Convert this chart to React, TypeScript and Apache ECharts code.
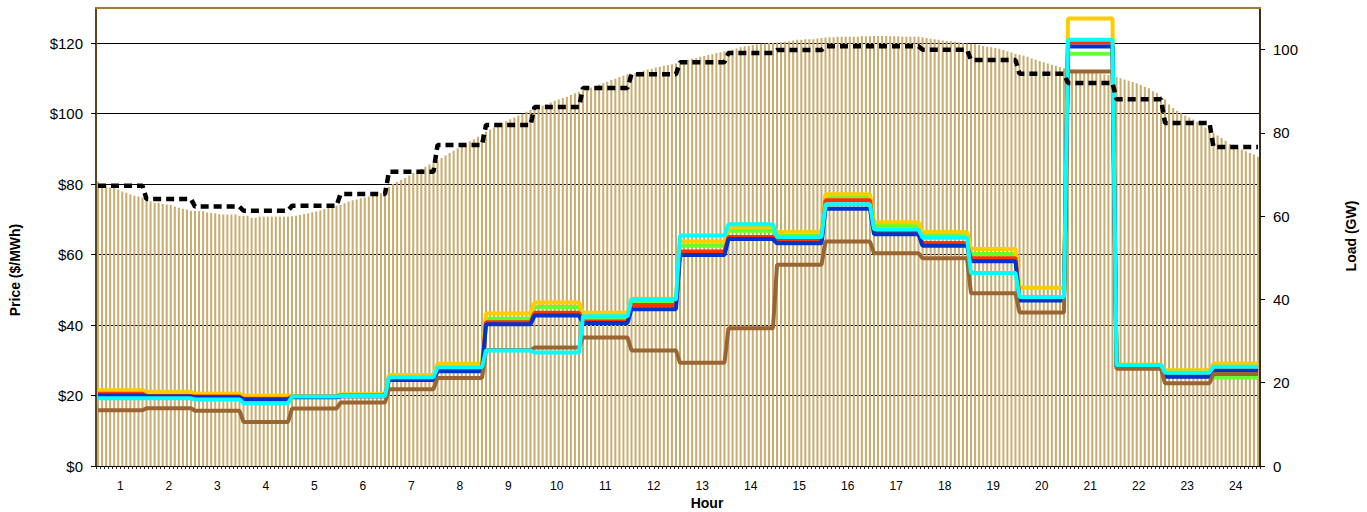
import React, { useEffect, useRef } from 'react';
import * as echarts from 'echarts';

const HOURS = ['1','2','3','4','5','6','7','8','9','10','11','12','13','14','15','16','17','18','19','20','21','22','23','24'];

const PRICE_GOLD = [21.5, 21.1, 20.5, 20.0, 19.9, 20.4, 25.8, 29.0, 43.3, 46.4, 43.5, 47.5, 63.7, 67.8, 66.4, 77.1, 69.2, 66.4, 61.6, 50.6, 127.0, 28.8, 27.2, 29.1];
const PRICE_GREEN = [21.2, 20.8, 20.2, 19.7, 19.6, 20.1, 25.5, 28.7, 41.8, 45.1, 42.0, 46.8, 62.5, 66.8, 65.5, 76.5, 68.3, 65.5, 60.2, 47.8, 117.0, 28.5, 26.2, 25.1];
const PRICE_RED = [20.5, 19.9, 19.7, 19.1, 19.7, 20.0, 24.6, 27.1, 40.8, 43.5, 41.0, 45.7, 60.9, 65.0, 63.9, 75.4, 66.4, 63.3, 59.0, 47.5, 120.2, 28.3, 25.5, 27.3];
const PRICE_BLUE = [20.0, 19.7, 19.5, 18.9, 19.5, 19.8, 24.4, 26.9, 40.2, 42.7, 40.6, 44.5, 59.9, 64.4, 63.2, 73.0, 65.8, 62.5, 58.1, 47.0, 119.1, 28.2, 25.3, 27.0];
const PRICE_BROWN = [15.8, 16.4, 15.7, 12.5, 16.3, 18.0, 21.8, 25.0, 32.9, 33.6, 36.5, 32.8, 29.3, 39.1, 57.1, 63.7, 60.4, 59.0, 49.0, 43.6, 112.0, 27.6, 23.5, 26.1];
const PRICE_CYAN = [19.2, 19.2, 18.9, 17.8, 19.7, 19.9, 25.2, 28.0, 32.8, 32.2, 42.5, 47.3, 65.4, 68.6, 65.0, 74.3, 67.2, 64.8, 54.8, 48.0, 121.0, 28.7, 26.5, 28.2];

const LOAD_HOURLY = [67.3, 64.1, 62.3, 61.3, 62.5, 65.3, 70.7, 77.1, 81.9, 86.2, 90.8, 94.1, 97.0, 99.2, 99.9, 100.8, 100.8, 100.0, 97.5, 94.2, 92.0, 88.1, 82.4, 76.6];

const LOAD_5MIN = [
  68.3, 67.7, 67.3, 66.9, 66.8, 66.4, 65.9, 65.6, 65.2, 64.9, 64.7, 64.5,
  63.9, 63.6, 63.2, 63.2, 62.9, 62.8, 62.7, 62.3, 62.0, 61.8, 61.6, 61.3,
  61.3, 61.2, 61.2, 60.9, 60.8, 60.7, 60.5, 60.4, 60.4, 60.4, 60.4, 60.1,
  60.1, 60.1, 59.6, 59.6, 59.9, 59.9, 59.9, 59.9, 59.9, 59.9, 59.9, 59.9,
  60.0, 60.1, 60.3, 60.5, 60.7, 60.9, 61.1, 61.4, 61.7, 62.0, 62.2, 62.5,
  62.7, 63.1, 63.5, 63.8, 64.0, 64.3, 64.5, 64.7, 64.9, 65.2, 65.5, 66.2,
  67.0, 67.7, 68.2, 68.7, 69.2, 69.8, 70.4, 70.9, 71.4, 71.9, 72.4, 72.9,
  73.4, 74.0, 74.6, 75.2, 75.7, 76.3, 76.8, 77.4, 78.0, 78.5, 79.1, 79.7,
  80.3, 80.8, 81.3, 81.9, 82.4, 82.8, 83.3, 83.7, 84.2, 84.6, 85.1, 85.5,
  85.9, 86.2, 86.6, 86.9, 87.3, 87.7, 88.0, 88.4, 88.7, 89.1, 89.5, 89.8,
  90.2, 90.5, 90.9, 91.2, 91.6, 91.9, 92.3, 92.7, 93.0, 93.4, 93.7, 94.0,
  94.2, 94.4, 94.7, 94.9, 95.2, 95.4, 95.7, 95.9, 96.1, 96.3, 96.5, 96.7,
  97.0, 97.3, 97.5, 97.8, 98.0, 98.3, 98.5, 98.7, 98.9, 99.2, 99.4, 99.6,
  99.8, 100.0, 100.3, 100.6, 100.8, 100.9, 101.1, 101.3, 101.4, 101.5, 101.6, 101.6,
  101.7, 101.8, 101.9, 102.0, 102.2, 102.4, 102.4, 102.5, 102.5, 102.5, 102.7, 102.8,
  102.9, 103.0, 103.0, 103.1, 103.1, 103.1, 103.1, 103.1, 103.1, 103.2, 103.2, 103.2,
  103.3, 103.3, 103.3, 103.3, 103.2, 103.2, 103.2, 103.1, 103.1, 103.1, 103.1, 103.1,
  103.0, 102.8, 102.6, 102.5, 102.4, 102.2, 102.1, 102.0, 101.9, 101.8, 101.6, 101.5,
  101.4, 101.3, 101.1, 100.9, 100.7, 100.6, 100.4, 100.2, 99.9, 99.6, 99.3, 99.0,
  98.8, 98.6, 98.3, 97.9, 97.6, 97.3, 97.0, 96.7, 96.4, 96.1, 95.8, 95.5,
  95.3, 95.2, 95.0, 94.9, 94.8, 94.6, 94.5, 94.3, 94.2, 94.0, 93.9, 93.8,
  93.4, 93.1, 92.8, 92.5, 92.2, 91.9, 91.5, 91.1, 90.7, 90.0, 89.6, 88.8,
  88.0, 86.8, 86.0, 85.3, 84.7, 84.2, 83.7, 83.2, 82.7, 82.2, 81.3, 80.6,
  80.0, 79.4, 78.8, 78.1, 77.3, 76.8, 76.4, 76.0, 75.6, 75.2, 74.8, 74.3,
];

const SLOTS_PER_HOUR = 12;
const FONT = "'Liberation Sans', Arial, sans-serif";

export default function App() {
  const ref = useRef<HTMLDivElement>(null);
  useEffect(() => {
    const chart = echarts.init(ref.current as HTMLDivElement, null, { renderer: 'svg' });
    const expand = (arr: number[]) => arr.flatMap((v) => Array(SLOTS_PER_HOUR).fill(v));
    const slots = LOAD_5MIN.map((_, i) => String(i));
    const priceLine = (name: string, data: number[], color: string) => ({
      type: 'line',
      name,
      data: expand(data),
      xAxisIndex: 0,
      yAxisIndex: 0,
      showSymbol: false,
      symbol: 'none',
      lineStyle: { color, width: 4 },
      itemStyle: { color },
      z: 3,
    });
    chart.setOption({
      animation: false,
      grid: { left: 96, right: 107, top: 8, bottom: 46, containLabel: false },
      xAxis: [
        {
          type: 'category',
          data: slots,
          position: 'bottom',
          boundaryGap: true,
          axisLine: { lineStyle: { color: '#000', width: 1 } },
          axisTick: { show: true, interval: 0, length: 3, lineStyle: { color: '#222' } },
          axisLabel: { show: false },
          splitLine: { show: false },
        },
        {
          type: 'category',
          data: HOURS,
          position: 'bottom',
          boundaryGap: true,
          axisLine: { show: false },
          axisTick: { show: false },
          axisLabel: { fontSize: 12, color: '#000', margin: 14, fontFamily: FONT, interval: 0 },
          splitLine: { show: false },
        },
        {
          type: 'category',
          data: HOURS,
          position: 'top',
          axisLine: { show: true, lineStyle: { color: '#A57A2F', width: 2 } },
          axisTick: { show: false },
          axisLabel: { show: false },
          splitLine: { show: false },
        },
      ],
      yAxis: [
        {
          type: 'value',
          min: 0,
          max: 130,
          interval: 20,
          position: 'left',
          axisLine: { show: true, lineStyle: { color: '#5a4522', width: 2 } },
          axisTick: { show: true, length: 5, lineStyle: { color: '#000' } },
          axisLabel: {
            formatter: (v: number) => '$' + v,
            fontSize: 15,
            color: '#000',
            margin: 13,
            showMaxLabel: false,
            fontFamily: FONT,
          },
          splitLine: { show: true, lineStyle: { color: '#000', width: 1 } },
        },
        {
          type: 'value',
          min: 0,
          max: 110,
          interval: 20,
          position: 'right',
          axisLine: { show: true, lineStyle: { color: '#3a2e18', width: 2 } },
          axisTick: { show: true, length: 5, lineStyle: { color: '#000' } },
          axisLabel: { fontSize: 15, color: '#000', margin: 13, showMaxLabel: false, fontFamily: FONT },
          splitLine: { show: false },
        },
      ],
      graphic: [
        {
          type: 'text',
          x: 15,
          y: 270,
          rotation: Math.PI / 2,
          style: { text: 'Price ($/MWh)', font: `bold 14px ${FONT}`, fill: '#000', textAlign: 'center', textVerticalAlign: 'middle' },
        },
        {
          type: 'text',
          x: 1351,
          y: 236,
          rotation: Math.PI / 2,
          style: { text: 'Load (GW)', font: `bold 14px ${FONT}`, fill: '#000', textAlign: 'center', textVerticalAlign: 'middle' },
        },
        {
          type: 'text',
          x: 707,
          y: 503,
          style: { text: 'Hour', font: `bold 14px ${FONT}`, fill: '#000', textAlign: 'center', textVerticalAlign: 'middle' },
        },
      ],
      series: [
        {
          type: 'bar',
          name: 'Load',
          data: LOAD_5MIN,
          xAxisIndex: 0,
          yAxisIndex: 1,
          barWidth: '50%',
          itemStyle: { color: '#C9AC6E' },
          z: 2,
        },
        priceLine('Green', PRICE_GREEN, '#66FF33'),
        priceLine('Gold', PRICE_GOLD, '#FFCC00'),
        priceLine('Red', PRICE_RED, '#FF3300'),
        priceLine('Blue', PRICE_BLUE, '#0033CC'),
        priceLine('Brown', PRICE_BROWN, '#996633'),
        priceLine('Cyan', PRICE_CYAN, '#00FFFF'),
        {
          type: 'line',
          name: 'Hourly Load',
          data: expand(LOAD_HOURLY),
          xAxisIndex: 0,
          yAxisIndex: 1,
          showSymbol: false,
          symbol: 'none',
          lineStyle: { color: '#000', width: 4.5, type: [8, 5] },
          itemStyle: { color: '#000' },
          z: 4,
        },
      ],
    });
    return () => chart.dispose();
  }, []);
  return <div ref={ref} style={{ position: 'absolute', left: 0, top: 0, width: 1367, height: 512 }} />;
}
